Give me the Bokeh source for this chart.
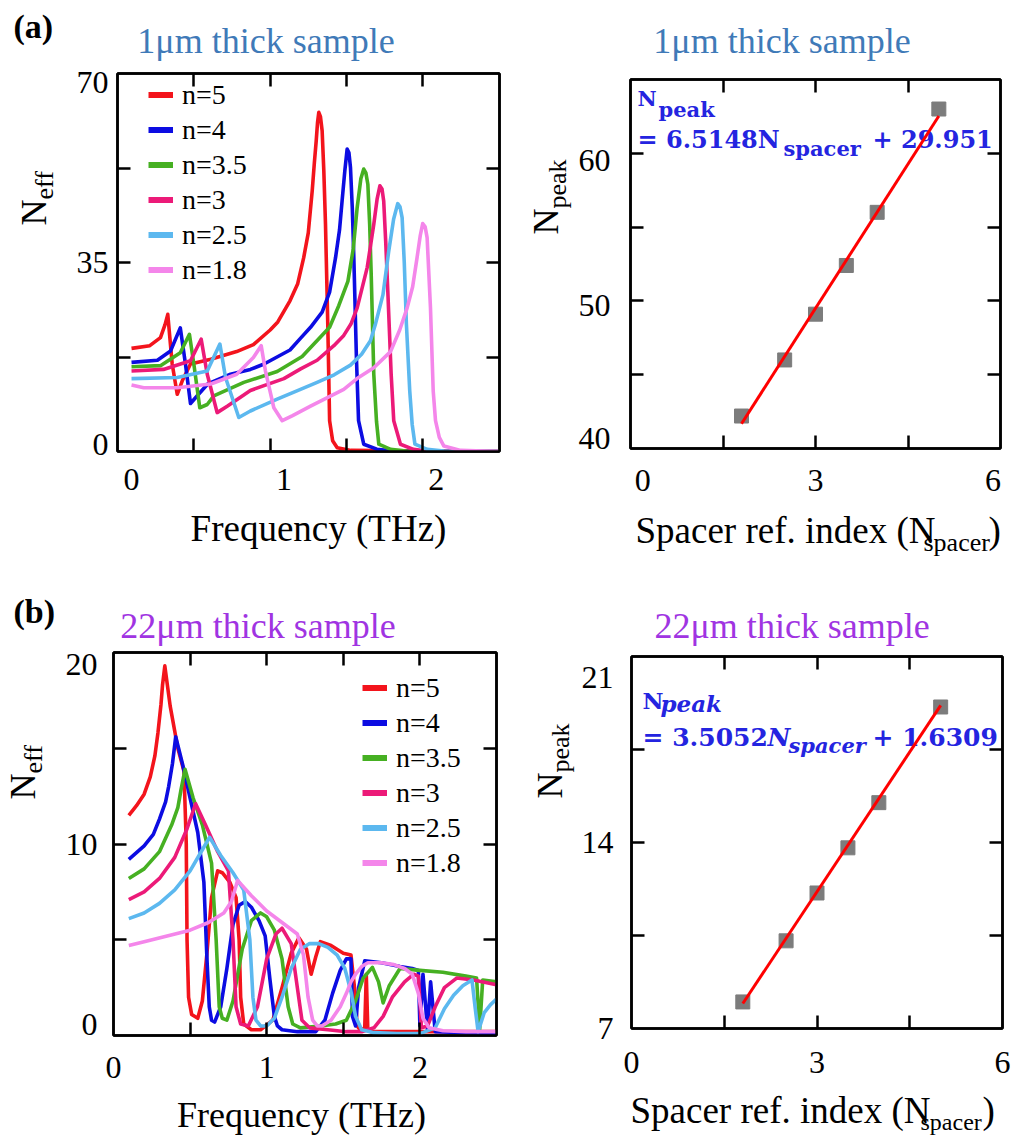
import math
from bokeh.plotting import figure
from bokeh.models import Range1d, FixedTicker, LinearAxis, Label, Legend, LegendItem
from bokeh.layouts import column, row
from bokeh.embed import file_html
from bokeh.resources import INLINE

SERIF = "Liberation Serif"
EQF = "DejaVu Serif"

# ---------------- data ----------------
series_labels = ["n=5", "n=4", "n=3.5", "n=3", "n=2.5", "n=1.8"]
series_colors = ["#f3141c", "#0c0ce2", "#46b022", "#ec1a78", "#5cb8ef", "#f486ea"]

# (a) 1 um thick sample : N_eff vs frequency (THz)
a5_x = [0.00, 0.12, 0.19, 0.22, 0.238, 0.267, 0.30, 0.333, 0.387, 0.52, 0.69, 0.80, 0.91, 0.96, 1.04, 1.09, 1.13, 1.16, 1.186, 1.20, 1.212, 1.221, 1.229, 1.24, 1.251, 1.262, 1.273, 1.288, 1.30, 1.32, 1.35, 1.44, 2.41]
a5_y = [19.1, 19.6, 21.1, 23.5, 25.4, 16.2, 10.6, 13.1, 16.2, 17.1, 18.5, 19.8, 22.5, 24.0, 27.9, 31.0, 35.9, 40.5, 48.3, 53.5, 57.5, 61.0, 62.8, 62.0, 59.4, 52.0, 42.1, 23.6, 5.7, 2.0, 0.7, 0.2, 0.0]
a4_x = [0.00, 0.17, 0.256, 0.32, 0.354, 0.387, 0.44, 0.50, 0.65, 0.78, 0.87, 1.04, 1.11, 1.175, 1.251, 1.30, 1.339, 1.365, 1.382, 1.40, 1.415, 1.427, 1.437, 1.449, 1.459, 1.476, 1.49, 1.524, 1.61, 1.72, 2.41]
a4_y = [16.5, 16.9, 18.6, 22.9, 16.2, 8.9, 10.6, 12.5, 14.3, 15.2, 16.2, 18.8, 21.0, 23.0, 25.8, 29.5, 35.9, 41.0, 46.4, 52.0, 56.0, 55.3, 52.6, 45.0, 35.9, 17.4, 5.7, 1.35, 0.43, 0.1, 0.0]
a35_x = [0.00, 0.19, 0.32, 0.38, 0.409, 0.448, 0.497, 0.54, 0.737, 0.956, 1.12, 1.30, 1.36, 1.42, 1.455, 1.481, 1.505, 1.524, 1.538, 1.551, 1.563, 1.573, 1.59, 1.608, 1.623, 1.70, 1.80, 2.41]
a35_y = [15.7, 15.9, 18.3, 21.7, 16.2, 8.1, 8.7, 10.3, 12.8, 14.8, 17.6, 23.0, 27.0, 31.5, 37.5, 45.2, 50.5, 52.3, 51.6, 49.5, 42.0, 32.8, 14.3, 5.5, 1.35, 0.4, 0.1, 0.0]
a3_x = [0.00, 0.21, 0.387, 0.457, 0.497, 0.562, 0.628, 0.78, 1.00, 1.11, 1.218, 1.328, 1.393, 1.44, 1.481, 1.547, 1.59, 1.612, 1.63, 1.644, 1.655, 1.668, 1.682, 1.704, 1.721, 1.765, 1.85, 1.94, 2.41]
a3_y = [14.9, 15.2, 16.8, 20.8, 14.3, 7.2, 8.4, 11.3, 13.5, 15.3, 16.9, 19.6, 21.5, 23.6, 26.6, 34.1, 42.1, 46.8, 49.2, 48.6, 46.4, 39.0, 29.7, 14.3, 5.7, 1.35, 0.4, 0.1, 0.0]
a25_x = [0.00, 0.30, 0.497, 0.58, 0.617, 0.704, 0.78, 0.956, 1.109, 1.218, 1.33, 1.437, 1.51, 1.568, 1.60, 1.65, 1.688, 1.72, 1.747, 1.762, 1.776, 1.79, 1.804, 1.826, 1.842, 1.86, 1.94, 2.05, 2.41]
a25_y = [13.5, 13.7, 14.9, 19.9, 13.7, 6.3, 7.5, 9.7, 11.5, 12.8, 14.2, 16.0, 18.0, 20.5, 23.5, 29.0, 37.1, 43.0, 45.9, 45.3, 43.3, 35.0, 23.6, 11.2, 5.0, 1.35, 0.4, 0.1, 0.0]
a18_x = [0.00, 0.08, 0.30, 0.52, 0.69, 0.80, 0.851, 0.879, 0.934, 0.989, 1.054, 1.175, 1.393, 1.48, 1.59, 1.70, 1.76, 1.809, 1.845, 1.874, 1.895, 1.911, 1.927, 1.94, 1.962, 1.98, 1.995, 2.02, 2.05, 2.16, 2.41]
a18_y = [12.3, 11.8, 11.8, 12.5, 14.3, 17.4, 19.6, 14.9, 8.1, 5.7, 6.6, 8.4, 11.5, 13.5, 15.5, 18.5, 22.5, 26.6, 30.5, 35.9, 40.0, 42.2, 41.6, 39.6, 26.6, 11.2, 5.7, 2.6, 1.0, 0.2, 0.0]

# (b) 22 um thick sample : N_eff vs frequency (THz)
b5_x = [0.10, 0.15, 0.20, 0.24, 0.27, 0.29, 0.31, 0.32, 0.335, 0.37, 0.42, 0.46, 0.475, 0.48, 0.49, 0.51, 0.55, 0.58, 0.61, 0.64, 0.68, 0.71, 0.76, 0.80, 0.82, 0.83, 0.85, 0.90, 0.96, 1.04, 1.10, 1.16, 1.21, 1.26, 1.29, 1.32, 1.35, 1.42, 1.50, 1.55, 1.58, 1.59, 1.61, 1.64, 1.65, 1.66, 1.68, 2.50]
b5_y = [11.5, 12.0, 12.6, 13.5, 14.6, 15.8, 17.3, 18.3, 19.3, 17.2, 15.0, 13.8, 10.0, 5.0, 2.0, 1.1, 0.9, 1.8, 4.3, 7.2, 8.6, 8.5, 8.0, 7.2, 5.0, 2.0, 0.6, 0.3, 0.3, 0.8, 2.5, 4.3, 5.1, 4.5, 3.2, 4.1, 4.9, 4.7, 4.3, 4.2, 2.0, 0.5, 0.3, 0.4, 3.2, 0.3, 0.2, 0.2]
b4_x = [0.10, 0.20, 0.26, 0.30, 0.34, 0.36, 0.385, 0.406, 0.45, 0.50, 0.55, 0.59, 0.61, 0.625, 0.64, 0.66, 0.70, 0.74, 0.78, 0.82, 0.86, 0.90, 0.95, 0.99, 1.02, 1.05, 1.07, 1.10, 1.20, 1.32, 1.38, 1.43, 1.48, 1.52, 1.55, 1.56, 1.58, 1.60, 1.64, 1.75, 1.87, 1.95, 1.99, 2.00, 2.02, 2.05, 2.07, 2.10, 2.30, 2.50]
b4_y = [9.2, 9.9, 10.5, 11.3, 12.2, 13.0, 14.2, 15.6, 14.2, 12.4, 10.6, 8.0, 4.0, 1.5, 0.8, 0.7, 1.5, 3.5, 5.8, 6.8, 7.0, 6.7, 6.0, 5.2, 3.0, 1.0, 0.5, 0.3, 0.2, 0.2, 0.8, 2.2, 3.4, 4.0, 4.0, 1.0, 0.5, 2.5, 3.9, 3.8, 3.6, 3.5, 3.4, 0.5, 3.2, 0.3, 2.8, 0.2, 0.15, 0.1]
b35_x = [0.10, 0.20, 0.30, 0.38, 0.42, 0.44, 0.467, 0.52, 0.58, 0.64, 0.67, 0.69, 0.71, 0.74, 0.78, 0.84, 0.90, 0.96, 1.00, 1.05, 1.10, 1.14, 1.17, 1.22, 1.35, 1.45, 1.52, 1.58, 1.63, 1.69, 1.73, 1.76, 1.80, 1.87, 2.00, 2.15, 2.30, 2.37, 2.39, 2.41, 2.50]
b35_y = [8.2, 8.7, 9.6, 11.0, 11.9, 12.8, 13.9, 12.4, 11.0, 9.0, 5.0, 1.5, 0.9, 0.8, 1.8, 4.5, 6.0, 6.4, 6.2, 5.5, 4.0, 1.5, 0.6, 0.4, 0.5, 0.6, 0.8, 1.8, 3.0, 3.56, 2.8, 1.7, 2.6, 3.5, 3.4, 3.3, 3.1, 3.0, 0.3, 2.9, 2.8]
b3_x = [0.10, 0.20, 0.30, 0.40, 0.48, 0.51, 0.536, 0.60, 0.68, 0.75, 0.78, 0.80, 0.83, 0.88, 0.94, 1.00, 1.06, 1.10, 1.16, 1.20, 1.23, 1.28, 1.40, 1.52, 1.62, 1.70, 1.76, 1.82, 1.90, 1.96, 1.99, 2.01, 2.05, 2.10, 2.16, 2.24, 2.35, 2.50]
b3_y = [7.1, 7.5, 8.2, 9.3, 10.8, 11.5, 12.1, 11.0, 9.6, 8.6, 5.0, 1.5, 0.6, 0.5, 1.5, 4.0, 5.3, 5.6, 4.8, 2.5, 0.8, 0.4, 0.3, 0.2, 0.2, 0.4, 1.0, 2.0, 2.8, 3.2, 3.1, 0.4, 0.5, 1.5, 2.5, 3.0, 2.9, 2.65]
b25_x = [0.10, 0.20, 0.30, 0.40, 0.50, 0.58, 0.627, 0.70, 0.78, 0.85, 0.89, 0.91, 0.93, 0.96, 1.00, 1.05, 1.10, 1.16, 1.22, 1.28, 1.34, 1.40, 1.46, 1.51, 1.55, 1.58, 1.62, 1.70, 1.85, 2.00, 2.10, 2.16, 2.22, 2.28, 2.34, 2.36, 2.38, 2.42, 2.46, 2.50]
b25_y = [6.1, 6.4, 6.9, 7.6, 8.6, 9.7, 10.35, 9.4, 8.5, 7.6, 5.0, 2.0, 0.8, 0.5, 0.5, 0.9, 2.0, 3.5, 4.5, 4.8, 4.8, 4.6, 4.2, 3.5, 2.3, 1.0, 0.3, 0.15, 0.1, 0.1, 0.4, 1.4, 2.1, 2.6, 2.9, 1.5, 0.2, 1.2, 1.6, 1.9]
b18_x = [0.10, 0.20, 0.35, 0.50, 0.62, 0.72, 0.77, 0.81, 0.90, 1.00, 1.10, 1.20, 1.24, 1.27, 1.30, 1.33, 1.36, 1.42, 1.48, 1.52, 1.55, 1.58, 1.62, 1.66, 1.75, 1.83, 1.90, 1.95, 1.99, 2.02, 2.06, 2.15, 2.30, 2.50]
b18_y = [4.7, 4.9, 5.2, 5.5, 5.9, 6.4, 7.0, 8.1, 7.3, 6.5, 5.9, 5.3, 4.2, 2.0, 0.8, 0.5, 0.5, 0.8, 1.5, 2.2, 2.8, 3.2, 3.6, 3.8, 3.8, 3.7, 3.5, 3.2, 2.2, 0.9, 0.4, 0.25, 0.2, 0.2]

# peak N vs spacer refractive index
n_spacer = [1.8, 2.5, 3.0, 3.5, 4.0, 5.0]
npeak_1um = [42.2, 46.0, 49.1, 52.4, 56.0, 63.0]
npeak_22um = [8.0, 10.3, 12.1, 13.8, 15.5, 19.1]
fit_x = [1.8, 5.0]
fit_1um = [41.68, 62.53]
fit_22um = [7.94, 19.16]

a_series = [(a5_x, a5_y), (a4_x, a4_y), (a35_x, a35_y), (a3_x, a3_y), (a25_x, a25_y), (a18_x, a18_y)]
b_series = [(b5_x, b5_y), (b4_x, b4_y), (b35_x, b35_y), (b3_x, b3_y), (b25_x, b25_y), (b18_x, b18_y)]

TITLE_BLUE = "#3f7ab8"
TITLE_PURPLE = "#a034e2"
EQ_BLUE = "#2424e0"
ROT = math.pi / 2
# observed drop of the drawn baseline below the requested one, in em, per font
BASE_SHIFT = {SERIF: 0.33, EQF: 0.45}


# ---------------- helpers ----------------
def main_fig(w, h, xr, yr, bl, br, bt, bb):
    p = figure(width=w, height=h, x_range=Range1d(*xr), y_range=Range1d(*yr),
               output_backend="svg", toolbar_location=None,
               min_border_left=bl, min_border_right=br, min_border_top=bt, min_border_bottom=bb)
    p.grid.visible = False
    p.outline_line_color = "black"
    p.outline_line_width = 2.5
    p.background_fill_color = "white"
    p.border_fill_color = "white"
    return p


def text_fig(w, h):
    f = figure(width=w, height=h, x_range=Range1d(0, w), y_range=Range1d(0, h),
               x_axis_location=None, y_axis_location=None, output_backend="svg",
               toolbar_location=None, min_border=0)
    f.grid.visible = False
    f.outline_line_color = None
    f.background_fill_color = "white"
    f.border_fill_color = "white"
    return f


def style_axis(ax, major, minor, standoff, labels=True, overrides=None):
    ax.ticker = FixedTicker(ticks=major if labels else [], minor_ticks=minor)
    ax.major_tick_in = 0
    ax.major_tick_out = 0
    ax.minor_tick_in = 13
    ax.minor_tick_out = 0
    ax.minor_tick_line_width = 2.5
    ax.minor_tick_line_color = "black"
    ax.axis_line_width = 2.5
    ax.axis_line_color = "black"
    ax.major_label_text_font = SERIF
    ax.major_label_text_color = "black"
    ax.major_label_text_font_size = "32px"
    ax.major_label_standoff = standoff
    if overrides:
        ax.major_label_overrides = overrides


def set_axes(p, xmajor, xminor, ymajor, yminor, xstand, ystand, xover=None, yover=None):
    style_axis(p.xaxis[0], xmajor, xminor, xstand, overrides=xover)
    style_axis(p.yaxis[0], ymajor, yminor, ystand, overrides=yover)
    top = LinearAxis()
    style_axis(top, xmajor, xminor, 0, labels=False)
    p.add_layout(top, "above")
    right = LinearAxis()
    style_axis(right, ymajor, yminor, 0, labels=False)
    p.add_layout(right, "right")


def put(p, fl, fb, X, Y, text, size, color="black", font=SERIF, style="normal",
        angle=0.0, align="left", level="annotation"):
    # X, Y: wanted baseline position on the page; fl, fb: page position of the frame's left / bottom
    shift = BASE_SHIFT[font] * size
    if angle:
        X = X - shift
    else:
        Y = Y - shift
    p.add_layout(Label(x=X - fl, y=fb - Y, x_units="screen", y_units="screen", text=text,
                       text_font=font, text_font_size=f"{size}px", text_color=color,
                       text_font_style=style, angle=angle, text_align=align,
                       text_baseline="alphabetic", level=level))


def add_curves(p, series, legend_loc):
    for (xs, ys), col in zip(series, series_colors):
        p.line(xs, ys, line_color=col, line_width=3.6, line_join="round")
    items = []
    for col, lab in zip(series_colors, series_labels):
        key = p.line([float("nan")], [float("nan")], line_color=col, line_width=6)
        items.append(LegendItem(label=lab, renderers=[key]))
    leg = Legend(items=items, location=legend_loc, label_text_font=SERIF,
                 label_text_font_size="28px", label_text_color="black",
                 glyph_width=25, glyph_height=35, label_height=35, label_standoff=9,
                 spacing=0, padding=0, margin=0, border_line_color=None,
                 background_fill_alpha=0)
    p.add_layout(leg)


# ================= quadrant (a) left: page box x 0..508, y 0..570 =================
t1 = text_fig(508, 62)            # page y 0..62
y1 = text_fig(60, 444)            # page x 0..60, y 62..506
p1 = main_fig(448, 444, (-0.092, 2.415), (0, 70), 57, 9, 11, 55)   # frame x 117..499, y 73..451
x1 = text_fig(508, 64)            # page y 506..570
set_axes(p1, [0, 1, 2], [0.41, 0.91, 1.41, 1.91], [1.3, 35, 68.3], [17.5, 35, 52.5], 17, 9,
         yover={1.3: "0", 68.3: "70"})
add_curves(p1, a_series, (31, 164))
put(t1, 0, 62, 13, 37, "(a)", 34, style="bold")
put(t1, 0, 62, 265.5, 52, "1\u03bcm thick sample", 36, color=TITLE_BLUE, align="center")
put(y1, 0, 506, 45, 280, "N", 36, angle=ROT)
put(y1, 0, 506, 53, 254, "eff", 26, angle=ROT)
put(x1, 0, 570, 318, 540, "Frequency (THz)", 37, align="center")
quad1 = column(t1, row(y1, p1), x1)

# ================= quadrant (a) right: page box x 508..1015, y 0..570 =================
t2 = text_fig(507, 62)
y2 = text_fig(66, 445)            # page x 508..574, y 62..507
p2 = main_fig(441, 445, (0, 6), (40, 65), 56, 15, 17, 59)          # frame x 630..1000, y 79..448
x2 = text_fig(507, 63)            # page y 507..570
set_axes(p2, [0.2, 3, 5.88], [1.5, 3, 4.5], [40.65, 49.66, 59.48], [45, 50, 55, 60], 21, 20,
         xover={0.2: "0", 5.88: "6"}, yover={40.65: "40", 49.66: "50", 59.48: "60"})
p2.scatter(n_spacer, npeak_1um, marker="square", size=14, fill_color="#7c7c7c", line_color="#7c7c7c")
p2.line(fit_x, fit_1um, line_color="#ff0000", line_width=3)
put(t2, 508, 62, 781.5, 52, "1\u03bcm thick sample", 36, color=TITLE_BLUE, align="center")
put(y2, 508, 507, 557, 293, "N", 36, angle=ROT)
put(y2, 508, 507, 566, 267, "peak", 26, angle=ROT)
put(x2, 508, 570, 635, 542, "Spacer ref. index (N", 37)
put(x2, 508, 570, 923, 551, "spacer", 26)
put(x2, 508, 570, 988, 542, ")", 37)
F2L, F2B = 630, 448
put(p2, F2L, F2B, 637, 107, "N", 21, color=EQ_BLUE, font=EQF, style="bold", level="underlay")
put(p2, F2L, F2B, 658, 118, "peak", 21, color=EQ_BLUE, font=EQF, style="bold", level="underlay")
put(p2, F2L, F2B, 637, 150, "= 6.5148N", 24, color=EQ_BLUE, font=EQF, style="bold", level="underlay")
put(p2, F2L, F2B, 783, 157, "spacer", 21, color=EQ_BLUE, font=EQF, style="bold", level="underlay")
put(p2, F2L, F2B, 872, 150, "+ 29.951", 24, color=EQ_BLUE, font=EQF, style="bold", level="underlay")
quad2 = column(t2, row(y2, p2), x2)

# ================= quadrant (b) left: page box x 0..508, y 570..1135 =================
t3 = text_fig(508, 76)            # page y 570..646
y3 = text_fig(58, 448)            # page x 0..58, y 646..1094
p3 = main_fig(450, 448, (0, 2.5), (0, 20), 55, 12, 6, 59)          # frame x 113..496, y 652..1035
x3 = text_fig(508, 41)            # page y 1094..1135
set_axes(p3, [0, 1, 2], [0.5, 1, 1.5, 2], [0.6, 10, 19.35], [5, 10, 15], 21, 16,
         yover={0.6: "0", 19.35: "20"})
add_curves(p3, b_series, (249, 155))
put(t3, 0, 646, 13, 622, "(b)", 34, style="bold")
put(t3, 0, 646, 257.5, 637, "22\u03bcm thick sample", 36, color=TITLE_PURPLE, align="center")
put(y3, 0, 1094, 34, 858, "N", 36, angle=ROT)
put(y3, 0, 1094, 42, 832, "eff", 26, angle=ROT)
put(x3, 0, 1135, 301, 1126, "Frequency (THz)", 36, align="center")
quad3 = column(t3, row(y3, p3), x3)

# ================= quadrant (b) right: page box x 508..1015, y 570..1135 =================
t4 = text_fig(507, 76)
y4 = text_fig(68, 443)            # page x 508..576, y 646..1089
p4 = main_fig(439, 443, (0, 6), (7, 21), 55, 13, 10, 61)           # frame x 631..1002, y 656..1028
x4 = text_fig(507, 46)            # page y 1089..1135
set_axes(p4, [0, 3, 6], [1.5, 3, 4.5], [7, 14, 20.2], [10.5, 14, 17.5], 23, 18, yover={20.2: "21"})
p4.scatter(n_spacer, npeak_22um, marker="square", size=14, fill_color="#7c7c7c", line_color="#7c7c7c")
p4.line(fit_x, fit_22um, line_color="#ff0000", line_width=3)
put(t4, 508, 646, 791.7, 637, "22\u03bcm thick sample", 36, color=TITLE_PURPLE, align="center")
put(y4, 508, 1089, 561, 859, "N", 36, angle=ROT)
put(y4, 508, 1089, 569, 833, "peak", 26, angle=ROT)
put(x4, 508, 1135, 630, 1122, "Spacer ref. index (N", 37)
put(x4, 508, 1135, 920, 1129, "spacer", 24)
put(x4, 508, 1135, 982, 1122, ")", 37)
F4L, F4B = 631, 1028
put(p4, F4L, F4B, 642, 710, "N", 23, color=EQ_BLUE, font=EQF, style="bold", level="underlay")
put(p4, F4L, F4B, 660, 713, "peak", 23, color=EQ_BLUE, font=EQF, style="bold italic", level="underlay")
put(p4, F4L, F4B, 642, 748, "= 3.5052", 25, color=EQ_BLUE, font=EQF, style="bold", level="underlay")
put(p4, F4L, F4B, 767, 748, "N", 25, color=EQ_BLUE, font=EQF, style="bold italic", level="underlay")
put(p4, F4L, F4B, 788, 754, "spacer", 21, color=EQ_BLUE, font=EQF, style="bold italic", level="underlay")
put(p4, F4L, F4B, 872, 748, "+ 1.6309", 25, color=EQ_BLUE, font=EQF, style="bold", level="underlay")
quad4 = column(t4, row(y4, p4), x4)

layout = column(row(quad1, quad2), row(quad3, quad4))
open("out.html", "w").write(file_html(layout, INLINE))
